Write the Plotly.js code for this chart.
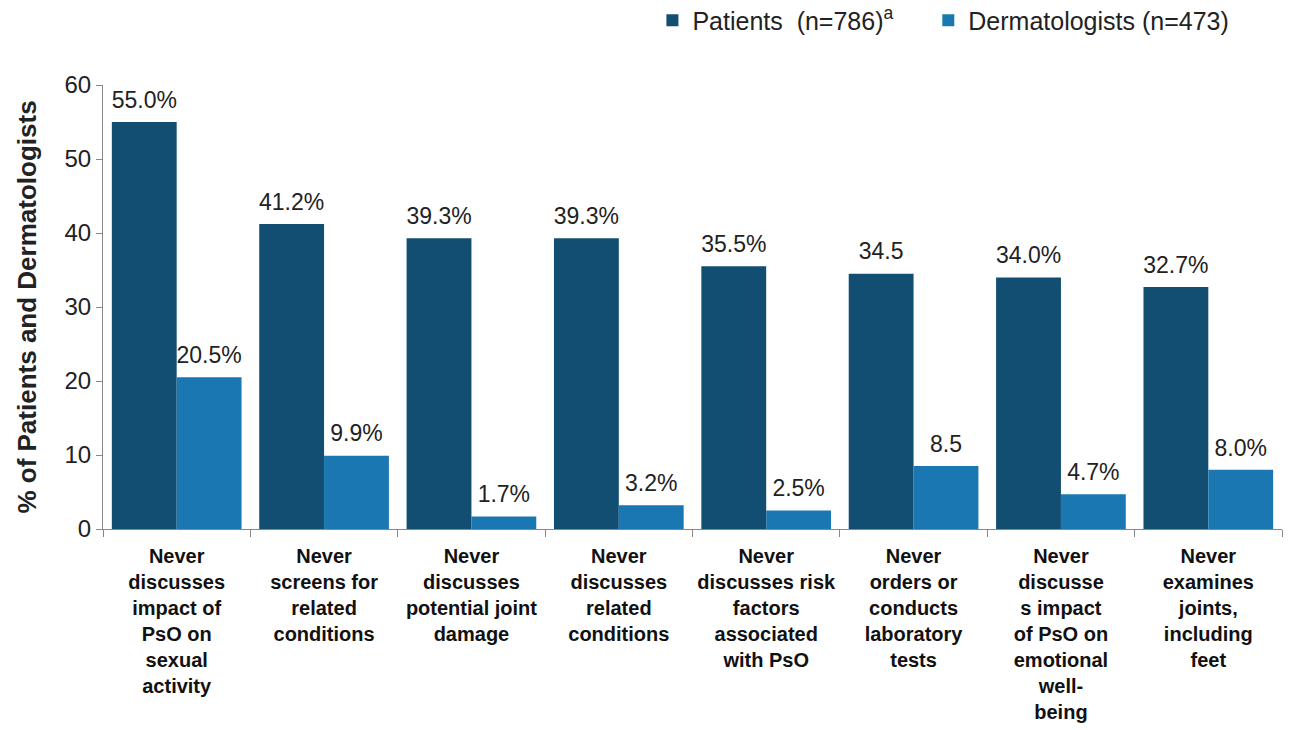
<!DOCTYPE html>
<html>
<head>
<meta charset="utf-8">
<script src="https://cdn.plot.ly/plotly-3.0.1.min.js"></script>
<style>html,body{margin:0;padding:0;background:#fff;}#chart{width:1289px;height:730px;}</style>
</head>
<body>
<div id="chart"></div>
<script>
const categories = [
  "Never<br>discusses<br>impact of<br>PsO on<br>sexual<br>activity",
  "Never<br>screens for<br>related<br>conditions",
  "Never<br>discusses<br>potential joint<br>damage",
  "Never<br>discusses<br>related<br>conditions",
  "Never<br>discusses risk<br>factors<br>associated<br>with PsO",
  "Never<br>orders or<br>conducts<br>laboratory<br>tests",
  "Never<br>discusse<br>s impact<br>of PsO on<br>emotional<br>well-<br>being",
  "Never<br>examines<br>joints,<br>including<br>feet"
];
const patients = [55.0, 41.2, 39.3, 39.3, 35.5, 34.5, 34.0, 32.7];
const patientLabels = ["55.0%", "41.2%", "39.3%", "39.3%", "35.5%", "34.5", "34.0%", "32.7%"];
const dermatologists = [20.5, 9.9, 1.7, 3.2, 2.5, 8.5, 4.7, 8.0];
const dermLabels = ["20.5%", "9.9%", "1.7%", "3.2%", "2.5%", "8.5", "4.7%", "8.0%"];
const seriesNames = ["Patients  (n=786)<sup>a</sup>", "Dermatologists (n=473)"];

const font = "Liberation Sans, Arial, sans-serif";
const colors = ['#124E72', '#1A77B1'];
const traces = [
  {type:'bar', name:seriesNames[0], x:categories, y:patients, offsetgroup:'p', legend:'legend',
   marker:{color:colors[0]}, hoverinfo:'skip'},
  {type:'bar', name:seriesNames[1], x:categories, y:dermatologists, offsetgroup:'d', legend:'legend2',
   marker:{color:colors[1]}, hoverinfo:'skip'},
  {type:'scatter', mode:'text+markers', x:categories, y:patients, text:patientLabels, offsetgroup:'p',
   textposition:'top center', showlegend:false, cliponaxis:false,
   marker:{size:12, opacity:0, color:colors[0]},
   textfont:{size:23, color:'#222', family:font}},
  {type:'scatter', mode:'text+markers', x:categories, y:dermatologists, text:dermLabels, offsetgroup:'d',
   textposition:'top center', showlegend:false, cliponaxis:false,
   marker:{size:12, opacity:0, color:colors[1]},
   textfont:{size:23, color:'#222', family:font}}
];
const legendFont = {size:25, color:'#222', family:font};
const layout = {
  width:1289, height:730,
  margin:{l:103, r:7, t:85, b:201},
  barmode:'group', bargap:0.12, bargroupgap:0,
  scattermode:'group', scattergap:0.12,
  font:{family:font, color:'#222'},
  paper_bgcolor:'#fff', plot_bgcolor:'#fff',
  showlegend:true,
  legend:{orientation:'h', x:0.466, y:0.972, yref:'container', xanchor:'left', yanchor:'middle', font:legendFont},
  legend2:{orientation:'h', x:0.7, y:0.972, yref:'container', xanchor:'left', yanchor:'middle', font:legendFont},
  xaxis:{showline:true, linecolor:'#888', linewidth:1, ticks:'outside', tickson:'boundaries',
    ticklen:7, tickcolor:'#888', tickfont:{size:20, color:'#111', family:font, weight:'bold'},
    ticklabelstandoff:9, tickangle:0,
    showgrid:false, zeroline:false},
  yaxis:{range:[0,60], dtick:10, showline:true, linecolor:'#888', linewidth:1, ticks:'outside',
    ticklen:6, tickcolor:'#888', tickfont:{size:24, color:'#222', family:font},
    showgrid:false, zeroline:false,
    title:{text:'% of Patients and Dermatologists', font:{size:26, color:'#222', family:font, weight:'bold'}, standoff:20}}
};
Plotly.newPlot('chart', traces, layout, {displayModeBar:false, staticPlot:true});
</script>
</body>
</html>
